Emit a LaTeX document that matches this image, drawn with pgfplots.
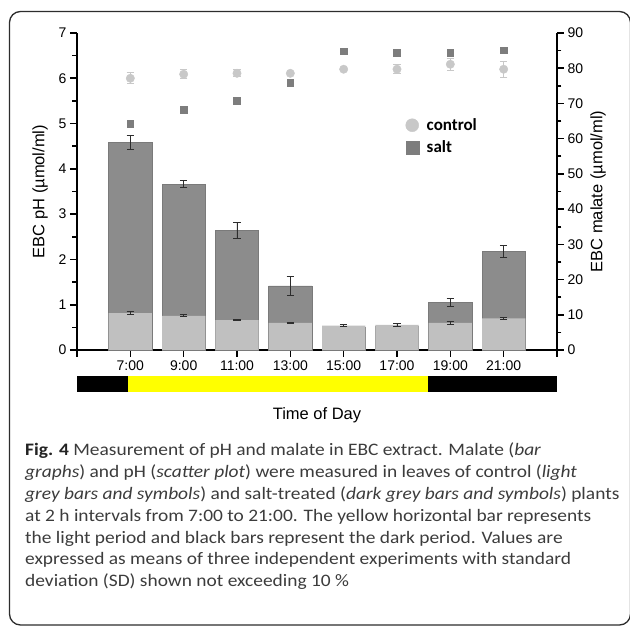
\documentclass[border=0pt]{standalone}
\usepackage{pgfplots}
\pgfplotsset{compat=1.18}
\usepackage{pgfplotstable}
\usepackage{fontspec}
\setmainfont{Liberation Sans}
\newfontfamily\capfont{Carlito}[FakeStretch=1.11]
\newfontfamily\legfont{Carlito}
\definecolor{saltbar}{RGB}{140,140,140}
\definecolor{saltedge}{RGB}{122,122,122}
\definecolor{ctrlbar}{RGB}{192,192,192}
\definecolor{ctrlpt}{RGB}{200,200,200}
\definecolor{saltpt}{RGB}{125,125,125}
\definecolor{errc}{RGB}{45,45,45}
\definecolor{capc}{RGB}{60,60,60}
\definecolor{figc}{RGB}{35,35,35}
\definecolor{framec}{RGB}{45,45,45}
\definecolor{dayyellow}{RGB}{255,255,0}

\pgfplotstableread{
x salt salterr ctrl ctrlerr
0 59.0 2.0 10.5 0.5
1 47.1 1.0 9.7 0.3
2 34.0 2.3 8.5 0.15
3 18.2 2.6 7.7 0.15
4 6.5 0 6.9 0.3
5 6.8 0 7.1 0.3
6 13.5 1.0 7.7 0.35
7 28.1 1.7 9.0 0.2
}\malate

\pgfplotstableread{
x ctrl ctrlerr salt
0 6.00 0.12 5.00
1 6.09 0.10 5.30
2 6.11 0.08 5.50
3 6.11 0.02 5.90
4 6.20 0.02 6.60
5 6.20 0.10 6.57
6 6.31 0.13 6.56
7 6.20 0.18 6.62
}\phdata

\begin{document}
\begin{tikzpicture}[x=1pt,y=1pt]
\useasboundingbox (0,0) rectangle (630,628);
\fill[white] (0,0) rectangle (630,628);
\draw[framec, line width=1.3pt, rounded corners=11pt] (9.5,3) rectangle (630.5,616.5);

\pgfplotsset{
  common/.style={
    at={(77pt,278pt)}, anchor=south west, scale only axis,
    width=480pt, height=317pt,
    xmin=-1, xmax=8,
    tick align=outside,
    major tick length=7pt, minor tick length=4.5pt,
    axis line style={line width=1.8pt, black, -},
    tick style={line width=1.6pt, black},
    ticklabel style={font=\fontsize{14}{16}\selectfont},
    /pgf/number format/assume math mode=true,
    label style={font=\fontsize{16.5}{19}\selectfont},
    clip=false,
  }
}

% malate axis (bars, right)
\begin{axis}[common,
  ymin=0, ymax=90,
  axis x line*=bottom, axis y line*=right,
  xtick={-1,0,...,8},
  xticklabels={,7:00,9:00,11:00,13:00,15:00,17:00,19:00,21:00,},
  ytick={0,10,...,90}, minor ytick={5,15,...,85},
  ylabel={EBC malate (µmol/ml)},
  ylabel style={at={(axis description cs:1.0854,0.5)}, anchor=center, rotate=0},
  xlabel={Time of Day},
  xlabel style={at={(axis description cs:0.5,-0.2208)}, anchor=base},
]
\addplot[ybar, bar width=43.3pt, bar shift=0pt, fill=saltbar, draw=saltedge, line width=0.6pt,
  error bars/.cd, y dir=both, y explicit,
  error bar style={errc, line width=0.9pt},
  error mark options={errc, line width=0.9pt, mark size=3.7pt, rotate=90}]
  table[x=x, y=salt, y error=salterr]{\malate};
\addplot[ybar, bar width=43.3pt, bar shift=0pt, fill=ctrlbar, draw=none,
  error bars/.cd, y dir=both, y explicit,
  error bar style={errc, line width=0.9pt},
  error mark options={errc, line width=0.9pt, mark size=3.7pt, rotate=90}]
  table[x=x, y=ctrl, y error=ctrlerr]{\malate};
% light / dark period bar
\addplot[fill=black, draw=none] coordinates {(-1,-7.38) (-0.0375,-7.38) (-0.0375,-11.92) (-1,-11.92)} -- cycle;
\addplot[fill=dayyellow, draw=none] coordinates {(-0.0375,-7.38) (5.5875,-7.38) (5.5875,-11.92) (-0.0375,-11.92)} -- cycle;
\addplot[fill=black, draw=none] coordinates {(5.5875,-7.38) (8,-7.38) (8,-11.92) (5.5875,-11.92)} -- cycle;
\end{axis}

% pH axis (scatter, left)
\begin{axis}[common,
  ymin=0, ymax=7,
  axis y line*=left, hide x axis,
  ytick={0,...,7}, minor ytick={0.5,1.5,...,6.5},
  ylabel={EBC pH (µmol/ml)},
  ylabel style={at={(axis description cs:-0.0771,0.5)}, anchor=center},
  legend style={draw=none, fill=none, at={(axis cs:5.16,5.16)}, anchor=north west,
    inner sep=0pt, row sep=5pt,
    font=\legfont\bfseries\fontsize{17}{19}\selectfont,
    /tikz/every odd column/.style={column sep=6pt}},
  legend cell align=left,
  legend image code/.code={\draw[#1] plot coordinates {(0pt,0pt)};},
]
\addplot[forget plot, only marks, mark=*, mark size=4.2pt, color=ctrlpt,
  error bars/.cd, y dir=both, y explicit,
  error bar style={ctrlpt, line width=0.9pt},
  error mark options={ctrlpt, line width=0.9pt, mark size=3.7pt, rotate=90}]
  table[x=x, y=ctrl, y error=ctrlerr]{\phdata};
\addplot[forget plot, only marks, mark=square*, mark size=3.3pt, color=saltpt]
  table[x=x, y=salt]{\phdata};
\addlegendimage{only marks, mark=*, mark size=6.5pt, color=ctrlpt}
\addlegendentry{control}
\addlegendimage{only marks, mark=square*, mark size=6.5pt, color=saltpt}
\addlegendentry{salt}
\end{axis}

% caption
\begin{scope}[every node/.style={anchor=base west, inner sep=0pt, text=capc,
   font=\capfont\fontsize{17.5}{21.8}\selectfont}]
\node at (25,172.0) {{\bfseries\color{figc}Fig. 4} Measurement of pH and malate in EBC extract. Malate (\textit{bar}};
\node at (25,150.2) {\textit{graphs}) and pH (\textit{scatter plot}) were measured in leaves of control (\textit{light}};
\node at (25,128.4) {\textit{grey bars and symbols}) and salt-treated (\textit{dark grey bars and symbols}) plants};
\node at (25,106.6) {at 2 h intervals from 7:00 to 21:00. The yellow horizontal bar represents};
\node at (25,84.8) {the light period and black bars represent the dark period. Values are};
\node at (25,63.0) {expressed as means of three independent experiments with standard};
\node at (25,41.2) {deviation (SD) shown not exceeding 10 \%};
\end{scope}
\end{tikzpicture}
\end{document}
